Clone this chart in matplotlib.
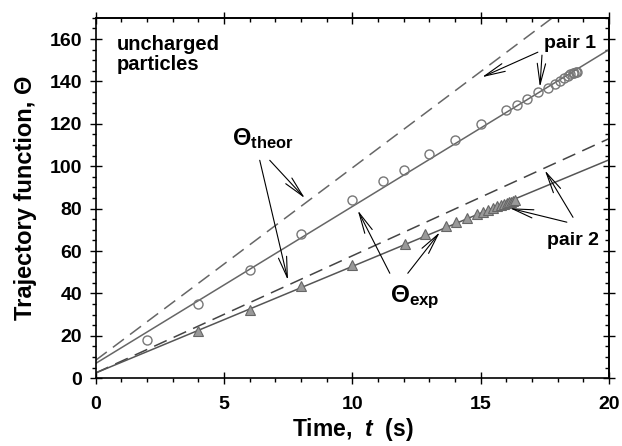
import matplotlib
matplotlib.use("Agg")
import matplotlib.pyplot as plt
from matplotlib.ticker import MultipleLocator

plt.rcParams['font.family'] = ['Liberation Sans', 'DejaVu Sans']
plt.rcParams['font.weight'] = 'bold'
plt.rcParams['mathtext.fontset'] = 'custom'
plt.rcParams['mathtext.rm'] = 'Liberation Sans:bold'
plt.rcParams['mathtext.bf'] = 'Liberation Sans:bold'
plt.rcParams['mathtext.it'] = 'Liberation Sans:bold:italic'

# ---- data ----
t_line = [0, 20]
theor1 = [8.5, 190.0]
exp1_fit = [7.0, 155.0]
theor2 = [2.5, 113.0]
exp2_fit = [2.5, 103.0]

t_circ = [2.0, 4.0, 6.0, 8.0, 10.0, 11.2, 12.0, 13.0, 14.0, 15.0, 16.0, 16.4, 16.8, 17.24, 17.63,
          17.9, 18.1, 18.25, 18.4, 18.5, 18.58, 18.65, 18.7, 18.74]
y_circ = [17.9, 34.8, 50.9, 67.9, 84.3, 92.9, 98.1, 106.0, 112.6, 119.8, 126.4, 129.1, 131.9, 135.0, 137.1,
          139.0, 140.4, 141.5, 142.6, 143.3, 143.8, 144.2, 144.4, 144.6]

t_tri = [4.0, 6.0, 8.0, 10.0, 12.05, 12.83, 13.65, 14.04, 14.45, 14.86, 15.1, 15.3, 15.5, 15.65,
         15.8, 15.92, 16.02, 16.12, 16.2, 16.27, 16.34]
y_tri = [22.3, 32.4, 43.4, 53.3, 63.5, 68.2, 71.7, 73.7, 75.8, 77.6, 78.6, 79.5, 80.4, 81.1,
         81.7, 82.2, 82.6, 83.0, 83.3, 83.6, 84.0]

x_major = [0, 5, 10, 15, 20]
y_major = [0, 20, 40, 60, 80, 100, 120, 140, 160]

fig = plt.figure(figsize=(6.22, 4.46), dpi=100)
ax = fig.add_axes([0.154, 0.152, 0.825, 0.808])

ax.plot(t_line, theor1, color='#666666', lw=1.1, ls=(0, (9, 5)))
ax.plot(t_line, exp1_fit, color='#666666', lw=1.1)
ax.plot(t_line, theor2, color='#444444', lw=1.1, ls=(0, (9, 5)))
ax.plot(t_line, exp2_fit, color='#555555', lw=1.1)

ax.plot(t_circ, y_circ, ls='none', marker='o', ms=6.5, mfc='none', mec='#777777', mew=1.0)
ax.plot(t_tri, y_tri, ls='none', marker='^', ms=7, mfc='#999999', mec='#666666', mew=0.8)

ax.set_xlim(0, 20)
ax.set_ylim(0, 170)
ax.set_xticks(x_major)
ax.set_xticklabels([str(v) for v in x_major])
ax.set_yticks(y_major)
ax.set_yticklabels([str(v) for v in y_major])
ax.xaxis.set_minor_locator(MultipleLocator(1))
ax.yaxis.set_minor_locator(MultipleLocator(5))
ax.tick_params(which='major', direction='inout', length=8, width=1.0, labelsize=14)
ax.tick_params(which='minor', direction='out', length=3, width=1.0)
ax.tick_params(axis='x', which='major', pad=9)
ax.tick_params(axis='y', which='major', pad=6)
for lab in ax.get_xticklabels() + ax.get_yticklabels():
    lab.set_fontweight('bold')
for s in ax.spines.values():
    s.set_linewidth(1.2)

# top / right tick marks (minor ticks pointing inward there)
secx = ax.secondary_xaxis('top')
secx.set_xticks(x_major)
secx.xaxis.set_minor_locator(MultipleLocator(1))
secx.tick_params(which='major', direction='inout', length=8, width=1.0, labeltop=False)
secx.tick_params(which='minor', direction='in', length=3, width=1.0)
secx.spines['top'].set_linewidth(1.2)
secy = ax.secondary_yaxis('right')
secy.set_yticks(y_major)
secy.yaxis.set_minor_locator(MultipleLocator(5))
secy.tick_params(which='major', direction='inout', length=8, width=1.0, labelright=False)
secy.tick_params(which='minor', direction='in', length=3, width=1.0)
secy.spines['right'].set_linewidth(1.2)

ax.set_xlabel(r'Time,  $\mathit{t}$  (s)', fontsize=16.5, fontweight='bold', labelpad=2)
ax.set_ylabel('Trajectory function, Θ', fontsize=17, fontweight='bold', labelpad=9)

ax.text(0.82, 162, 'uncharged\nparticles', fontsize=14.5, fontweight='bold', va='top', ha='left',
        linespacing=1.05)
ax.text(5.3, 113, r'$\Theta_{\rm theor}$', fontsize=17, va='center', ha='left')
ax.text(11.46, 38, r'$\Theta_{\rm exp}$', fontsize=17.5, va='center', ha='left')
ax.text(17.47, 158, 'pair 1', fontsize=14, fontweight='bold', va='center', ha='left')
ax.text(17.58, 65, 'pair 2', fontsize=14, fontweight='bold', va='center', ha='left')

arr = dict(arrowstyle='->,head_length=1.5,head_width=0.3', color='black', lw=0.8,
           shrinkA=0, shrinkB=0)
arrows = [
    ((7.49, 46.2), (6.39, 102.8)),
    ((8.15, 84.9), (6.78, 102.8)),
    ((15.05, 142.0), (17.23, 153.8)),
    ((17.31, 137.3), (17.39, 152.4)),
    ((17.5, 98.1), (18.6, 75.9)),
    ((16.14, 80.2), (18.36, 73.6)),
    ((10.21, 79.2), (11.46, 49.5)),
    ((13.41, 68.9), (12.16, 49.5)),
]
for xy, xytext in arrows:
    ax.annotate('', xy=xy, xytext=xytext, arrowprops=arr)

fig.savefig('out.png', dpi=100)
